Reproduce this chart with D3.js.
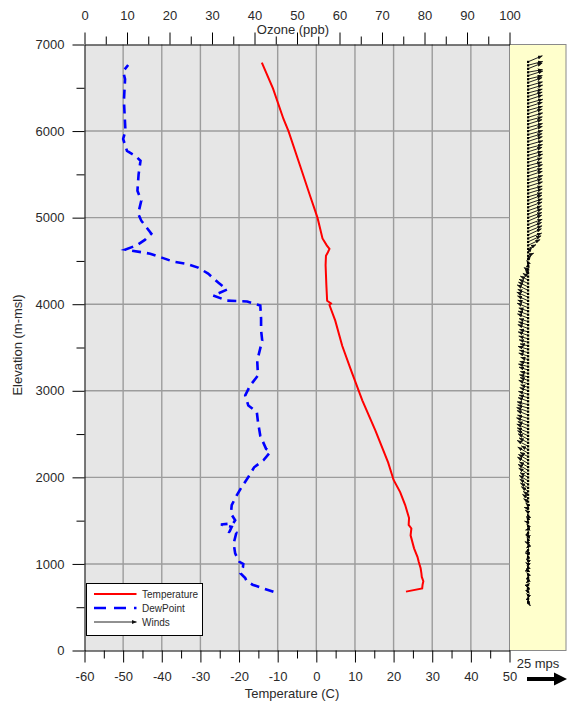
<!DOCTYPE html>
<html>
<head>
<meta charset="utf-8">
<script src="https://cdn.jsdelivr.net/npm/d3@7"></script>
<style>
  html, body { margin: 0; padding: 0; background: #ffffff; }
  svg { display: block; font-family: "Liberation Sans", Arial, sans-serif; }
</style>
</head>
<body>
<svg id="chart" width="568" height="707"></svg>
<script>
// ---- Sounding profile: temperature (C) by elevation (m-msl)
const tempElev = [680, 717, 760, 800, 850, 890, 950, 1024, 1080, 1180, 1330, 1410, 1450, 1530, 1680, 1830, 1970, 2170, 2540, 2890, 3235, 3520, 3810, 3990, 4010, 4040, 4220, 4450, 4560, 4600, 4640, 4680, 4760, 5000, 5250, 5600, 6000, 6140, 6490, 6790];
const tempVal  = [23.2, 27.4, 27.5, 27.7, 27.3, 27.2, 27.0, 26.5, 26.2, 25.3, 24.4, 24.6, 23.9, 24.0, 23.0, 21.7, 20.0, 18.6, 15.3, 11.9, 9.0, 6.7, 4.9, 3.4, 3.8, 2.8, 2.6, 2.4, 2.5, 3.0, 3.4, 2.7, 1.6, 0.3, -1.6, -4.2, -7.2, -8.5, -11.2, -14.1];

// ---- Dew point (C) by elevation (m-msl)
const dewElev = [678, 729, 760, 800, 836, 890, 960, 1000, 1024, 1121, 1236, 1359, 1370, 1428, 1455, 1470, 1505, 1582, 1678, 1793, 1889, 2004, 2116, 2197, 2293, 2330, 2480, 2639, 2754, 2831, 2947, 3062, 3177, 3350, 3580, 3700, 3835, 3985, 4031, 4042, 4100, 4169, 4250, 4354, 4423, 4469, 4492, 4538, 4584, 4631, 4680, 4746, 4815, 4965, 5046, 5196, 5310, 5500, 5657, 5713, 5770, 5910, 6000, 6350, 6600, 6690, 6764];
const dewVal  = [-11.1, -14.5, -16.5, -18.0, -18.4, -19.6, -19.0, -18.9, -19.9, -21.0, -21.4, -20.7, -22.5, -21.9, -24.7, -21.5, -21.0, -22.1, -21.9, -20.6, -19.3, -17.6, -16.1, -13.7, -11.9, -13.0, -14.5, -15.1, -15.4, -17.6, -18.4, -17.1, -15.1, -15.3, -14.0, -14.3, -14.3, -14.5, -17.9, -23.1, -26.7, -23.1, -25.4, -28.0, -30.6, -33.9, -37.0, -40.0, -43.0, -49.4, -46.5, -44.3, -42.7, -45.3, -46.1, -45.3, -46.3, -46.0, -45.5, -46.8, -49.0, -50.0, -49.4, -49.8, -49.5, -50.0, -48.7];

// ---- Winds: east (u) and north (v) components in m/s at each level
const windElev = [
  560, 600, 640, 680, 720, 760, 800, 840, 880, 920, 960, 1000,
  1040, 1080, 1120, 1160, 1200, 1240, 1280, 1320, 1360, 1400, 1440, 1480, 1520, 1560, 1600, 1640, 1680,
  1720, 1760, 1800, 1840, 1880, 1920, 1960, 2000,
  2040, 2080, 2120, 2160, 2200, 2240, 2280, 2320, 2360, 2400, 2440, 2480,
  2520, 2560, 2600, 2640, 2680, 2720, 2760, 2800, 2840, 2880, 2920, 2960,
  3000, 3040, 3080, 3120,
  3160, 3200, 3240, 3280, 3320, 3360, 3400, 3440, 3480, 3520, 3560,
  3600, 3640, 3680, 3720, 3760, 3800, 3840, 3880, 3920, 3960, 4000,
  4040, 4080, 4120, 4160, 4200, 4240, 4280,
  4320, 4360, 4400, 4440, 4480,
  4520, 4560, 4600, 4640,
  4680, 4720, 4760, 4800, 4840, 4880, 4920, 4960, 5000, 5040, 5080, 5120, 5160, 5200,
  5240, 5280, 5320, 5360, 5400, 5440, 5480, 5520, 5560, 5600, 5640, 5680, 5720, 5760, 5800, 5840, 5880, 5920, 5960, 6000,
  6040, 6080, 6120, 6160, 6200, 6240, 6280, 6320, 6360, 6400, 6440, 6480, 6520, 6560, 6600, 6640, 6680, 6720, 6760, 6800
];
const windU = [
  1.5, 0.5, -1.0, 0.8, -0.5, 1.0, -1.2, 0.6, -0.8, 1.2, -0.6, -1.5,
  -1.2, -0.5, -1.8, 0.4, -1.0, -2.0, -0.6, -1.4, 0.3, -1.6, -0.8, -2.2, -1.0, -0.4, -1.8, -2.4, -1.5,
  -2.8, -3.5, -3.0, -4.2, -4.8, -5.2, -5.6, -5.0,
  -5.8, -6.2, -5.4, -6.6, -6.0, -5.0, -6.4, -4.2, -6.8, -5.6, -6.2, -6.6,
  -6.8, -7.0, -6.4, -7.2, -6.6, -6.9, -7.1, -6.5, -6.8, -6.2, -5.6, -6.0,
  -5.2, -4.6, -5.8, -5.0,
  -5.4, -4.8, -5.6, -6.0, -5.2, -4.6, -5.8, -5.4, -6.2, -5.0, -5.6,
  -5.8, -6.2, -5.4, -6.4, -6.0, -5.6, -6.6, -6.2, -5.8, -6.8, -6.4,
  -6.6, -7.0, -6.4, -6.8, -6.0, -5.6, -4.8,
  -3.2, -1.8, -2.6, 0.6, -0.8,
  1.8, 3.6, 2.4, 5.0,
  7.6, 8.2, 8.6, 8.4, 8.8, 8.5, 8.9, 8.6, 8.7, 8.9, 8.5, 8.8, 9.0, 8.7,
  8.8, 9.0, 8.9, 9.1, 8.8, 9.2, 9.0, 8.9, 9.1, 8.7, 8.9, 9.2, 9.0, 8.8, 9.1, 9.3, 9.0, 8.9, 9.2, 9.0,
  9.1, 8.8, 9.0, 9.2, 8.9, 9.1, 9.0, 9.3, 9.1, 8.9, 9.0, 9.2, 9.1, 8.8, 9.0, 9.3, 9.1, 8.9, 9.2, 9.0
];
const windV = [
  -2.5, 1.5, 1.0, -1.2, 1.8, 0.8, -1.0, 1.5, 1.2, -0.6, 1.4, 0.9,
  1.0, 1.6, 0.4, 1.2, -0.8, 1.0, 1.5, 0.6, 1.1, -0.5, 1.3, 0.8, 1.6, 0.9, 1.2, 0.7, 1.4,
  1.8, 2.4, 2.0, 2.8, 3.0, 3.2, 3.4, 3.0,
  3.6, 3.8, 3.2, 4.0, 3.5, 2.6, 3.8, 2.4, 3.6, 3.0, 3.4, 3.2,
  2.8, 3.0, 2.4, 2.6, 2.2, 2.8, 2.5, 2.0, 1.8, 2.2, 1.6, 1.8,
  2.0, 1.6, 2.2, 1.8,
  1.4, 1.2, 1.8, 1.6, 1.0, 1.4, 2.0, 1.6, 1.8, 1.2, 1.6,
  1.8, 2.2, 1.6, 2.4, 2.0, 1.8, 2.6, 2.2, 2.0, 2.8, 2.6,
  3.0, 3.2, 2.8, 3.4, 3.0, 2.6, 2.4,
  2.0, 2.6, 1.2, 2.0, 1.4,
  2.4, 1.6, 3.0, 2.6,
  3.6, 3.8, 3.4, 3.9, 3.6, 3.5, 3.3, 3.7, 3.2, 3.4, 3.0, 3.3, 3.1, 3.2,
  2.6, 2.8, 2.4, 2.9, 2.7, 2.5, 3.0, 2.6, 2.8, 2.3, 2.7, 2.9, 2.5, 2.8, 2.4, 2.6, 3.0, 2.7, 2.5, 2.9,
  2.6, 2.8, 2.4, 2.7, 2.9, 2.5, 2.8, 2.6, 3.0, 2.7, 2.4, 2.8, 2.6, 3.1, 2.2, 2.9, 1.6, 3.6, 2.4, 3.8
];
const windRefSpeed = 25; // mps shown by the key arrow

// ---- Axis ticks
const tempTicks  = d3.range(-60, 51, 5);
const ozoneTicks = d3.range(0, 101, 5);
const elevTicks  = d3.range(0, 7001, 500);

// ---- Layout
const svg = d3.select("#chart");
const plot = { left: 84.5, right: 509.5, top: 44.5, bottom: 650.5 };
const panel = { left: 509.5, right: 566, top: 44.5, bottom: 650.5 };

const x = d3.scaleLinear().domain([-60, 50]).range([plot.left, plot.right]);
const xOzone = d3.scaleLinear().domain([0, 100]).range([plot.left, plot.right]);
const y = d3.scaleLinear().domain([0, 7000]).range([plot.bottom, plot.top]);
const windLen = d3.scaleLinear().domain([0, windRefSpeed]).range([0, 40]);
const windOriginX = panel.left + 18.5;

const textColor = "#2a2a2a";
const gridColor = "#9c9c9c";

// plot background and wind panel
svg.append("rect")
  .attr("x", plot.left).attr("y", plot.top)
  .attr("width", plot.right - plot.left).attr("height", plot.bottom - plot.top)
  .attr("fill", "#e6e6e6");
svg.append("rect")
  .attr("x", panel.left).attr("y", panel.top)
  .attr("width", panel.right - panel.left).attr("height", panel.bottom - panel.top)
  .attr("fill", "#ffffcc").attr("stroke", "#8a8a8a").attr("stroke-width", 1);

// grid
const grid = svg.append("g").attr("stroke", gridColor).attr("stroke-width", 1.4);
grid.selectAll("line.v").data(d3.range(-50, 41, 10)).join("line")
  .attr("x1", d => x(d)).attr("x2", d => x(d))
  .attr("y1", plot.top).attr("y2", plot.bottom);
grid.selectAll("line.h").data(d3.range(1000, 6001, 1000)).join("line")
  .attr("y1", d => y(d)).attr("y2", d => y(d))
  .attr("x1", plot.left).attr("x2", plot.right);

// axes with long major and short minor ticks
function styleAxis(g) {
  g.select(".domain").attr("stroke", "#000").attr("stroke-width", 1);
  g.selectAll(".tick line").attr("stroke", "#000").attr("stroke-width", 1);
  g.selectAll(".tick text")
    .attr("fill", textColor)
    .style("font-size", "13px")
    .style("font-family", "'Liberation Sans', Arial, sans-serif");
  return g;
}

const bottomAxis = svg.append("g")
  .attr("transform", `translate(0,${plot.bottom})`)
  .call(d3.axisBottom(x).tickValues(tempTicks).tickSize(12).tickSizeOuter(0).tickPadding(8)
    .tickFormat(d => d % 10 === 0 ? d : ""));
styleAxis(bottomAxis);
bottomAxis.selectAll(".tick line").attr("y2", d => d % 10 === 0 ? 12 : 8);
bottomAxis.selectAll(".tick text").attr("y", 21);

const topAxis = svg.append("g")
  .attr("transform", `translate(0,${plot.top})`)
  .call(d3.axisTop(xOzone).tickValues(ozoneTicks).tickSize(12).tickSizeOuter(0).tickPadding(8)
    .tickFormat(d => d % 10 === 0 ? d : ""));
styleAxis(topAxis);
topAxis.selectAll(".tick line").attr("y2", d => d % 10 === 0 ? -12 : -8);
topAxis.selectAll(".tick text").attr("y", -25);

const leftAxis = svg.append("g")
  .attr("transform", `translate(${plot.left},0)`)
  .call(d3.axisLeft(y).tickValues(elevTicks).tickSize(12).tickSizeOuter(0).tickPadding(8)
    .tickFormat(d => d % 1000 === 0 ? d : ""));
styleAxis(leftAxis);
leftAxis.selectAll(".tick line").attr("x2", d => d % 1000 === 0 ? -12 : -8);

// axis titles
svg.append("text")
  .attr("x", 292).attr("y", 698).attr("text-anchor", "middle")
  .attr("fill", textColor).style("font-size", "13px")
  .text("Temperature (C)");
svg.append("text")
  .attr("x", 293).attr("y", 34).attr("text-anchor", "middle")
  .attr("fill", textColor).style("font-size", "13px")
  .text("Ozone (ppb)");
svg.append("text")
  .attr("transform", "translate(22,345) rotate(-90)")
  .attr("text-anchor", "middle")
  .attr("fill", textColor).style("font-size", "13px")
  .text("Elevation (m-msl)");

// temperature and dew point traces
const line = d3.line().x(d => x(d[1])).y(d => y(d[0]));
svg.append("path")
  .datum(d3.zip(dewElev, dewVal))
  .attr("d", line)
  .attr("fill", "none").attr("stroke", "#0000ff")
  .attr("stroke-width", 2.6).attr("stroke-dasharray", "9,6");
svg.append("path")
  .datum(d3.zip(tempElev, tempVal))
  .attr("d", line)
  .attr("fill", "none").attr("stroke", "#ff0000")
  .attr("stroke-width", 2);

// wind vectors
const defs = svg.append("defs");
defs.append("marker")
  .attr("id", "windHead").attr("markerUnits", "userSpaceOnUse")
  .attr("viewBox", "0 0 5 4").attr("refX", 4.8).attr("refY", 2)
  .attr("markerWidth", 5).attr("markerHeight", 4).attr("orient", "auto")
  .append("path").attr("d", "M0,0 L5,2 L0,4 Z").attr("fill", "#111");

const winds = windElev.map((e, i) => ({ elev: e, u: windU[i], v: windV[i] }));
const wg = svg.append("g");
wg.selectAll("line").data(winds).join("line")
  .attr("x1", windOriginX).attr("y1", d => y(d.elev))
  .attr("x2", d => windOriginX + Math.sign(d.u) * windLen(Math.abs(d.u)))
  .attr("y2", d => y(d.elev) - Math.sign(d.v) * windLen(Math.abs(d.v)))
  .attr("stroke", "#222").attr("stroke-width", 1)
  .attr("marker-end", "url(#windHead)");
wg.selectAll("rect").data(winds).join("rect")
  .attr("x", windOriginX - 1).attr("y", d => y(d.elev) - 1)
  .attr("width", 2.2).attr("height", 2.2).attr("fill", "#000");

// wind scale key
svg.append("text")
  .attr("x", 538).attr("y", 668).attr("text-anchor", "middle")
  .attr("fill", textColor).style("font-size", "13px")
  .text("25 mps");
const keyX0 = panel.left + 17.5, keyY = 679;
const keyX1 = keyX0 + windLen(windRefSpeed);
svg.append("line")
  .attr("x1", keyX0).attr("x2", keyX1 - 10).attr("y1", keyY).attr("y2", keyY)
  .attr("stroke", "#000").attr("stroke-width", 4);
svg.append("path")
  .attr("d", `M${keyX1 - 13},${keyY - 6.5} L${keyX1},${keyY} L${keyX1 - 13},${keyY + 6.5} Z`)
  .attr("fill", "#000");

// legend
const lg = svg.append("g").attr("transform", "translate(86.5,583.5)");
lg.append("rect").attr("width", 116).attr("height", 52)
  .attr("fill", "#fff").attr("stroke", "#000").attr("stroke-width", 1);
const items = [
  { label: "Temperature", color: "#ff0000", dash: null, w: 2 },
  { label: "DewPoint", color: "#0000ff", dash: "12,8", w: 2.6 },
  { label: "Winds", color: "#222", dash: null, w: 1 }
];
items.forEach((it, i) => {
  const yy = 10.5 + i * 14;
  const l = lg.append("line")
    .attr("x1", 7.5).attr("x2", 50)
    .attr("y1", yy).attr("y2", yy)
    .attr("stroke", it.color).attr("stroke-width", it.w);
  if (it.dash) l.attr("stroke-dasharray", it.dash);
  if (it.label === "Winds") l.attr("marker-end", "url(#windHead)");
  lg.append("text").attr("x", 55.5).attr("y", yy + 3.5)
    .attr("fill", textColor).style("font-size", "10px").text(it.label);
});
</script>
</body>
</html>
